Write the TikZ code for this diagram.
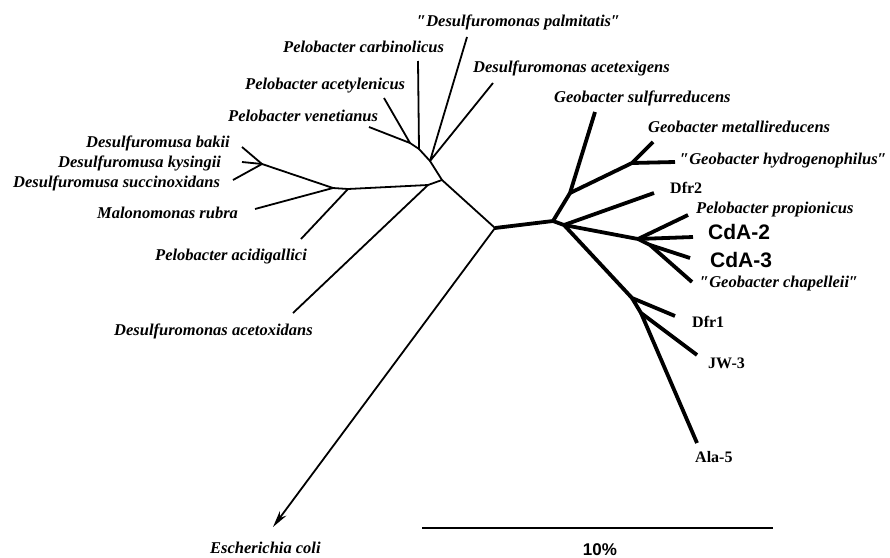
\documentclass[tikz,border=0pt]{standalone}
\usepackage{fontspec}
\setmainfont{Liberation Serif}
\setsansfont{Liberation Sans}
\usetikzlibrary{arrows.meta}
\newcommand{\spc}{\fontsize{16.5}{19}\selectfont\bfseries\itshape}
\newcommand{\iso}{\fontsize{16}{19}\selectfont\bfseries}
\newcommand{\cdafont}{\fontsize{21}{24}\selectfont\sffamily\bfseries}
\newcommand{\dq}{″}
\begin{document}
\begin{tikzpicture}[x=1pt,y=-1pt,line join=round,
  br/.style={line width=1.8pt},
  trunk/.style={line width=3.8pt},
  lab/.style={anchor=base west,inner sep=0,font=\spc}]
\useasboundingbox (0,0) rectangle (890,557);
% inner nodes, left part
\coordinate (C) at (495,228);
\coordinate (A) at (442,180);
\coordinate (B) at (430,161);
\coordinate (D) at (428,185);
\coordinate (cb) at (419,149);
\coordinate (J) at (410,143);
\coordinate (F) at (348,189);
\coordinate (G) at (333,188);
\coordinate (H) at (262,164);
% tips, left part
\coordinate (palm) at (467,37);
\coordinate (acex) at (493,83);
\coordinate (carb) at (418,61);
\coordinate (acet) at (384,98);
\coordinate (vene) at (369,127);
\coordinate (baki) at (242,147);
\coordinate (kysi) at (242,162);
\coordinate (succ) at (233,180);
\coordinate (malo) at (255,209);
\coordinate (acid) at (301,239);
\coordinate (acox) at (293,313);
\coordinate (ecol) at (273,527);
% inner nodes, right part
\coordinate (K) at (553,221);
\coordinate (L) at (570,193);
\coordinate (M) at (632,163);
\coordinate (N) at (564,225);
\coordinate (P) at (638,239);
\coordinate (Q) at (650,245);
\coordinate (R) at (632,298);
\coordinate (S) at (641,313);
% tips, right part
\coordinate (sulf) at (595,112);
\coordinate (meta) at (653,142);
\coordinate (hydr) at (675,162);
\coordinate (dfrb) at (654,193);
\coordinate (prop) at (688,215);
\coordinate (cdab) at (693,237);
\coordinate (cdac) at (690,258);
\coordinate (chap) at (692,282);
\coordinate (dfra) at (675,316);
\coordinate (jwc) at (697,355);
\coordinate (alae) at (697,443);
% thin branches
\draw[br] (palm) -- (B) -- (acex);
\draw[br] (carb) -- (cb) -- (B) -- (A) -- (C);
\draw[br] (acet) -- (J) -- (vene);
\draw[br] (J) -- (cb);
\draw[br] (baki) -- (H) -- (succ);
\draw[br] (kysi) -- (H) -- (G) -- (F) -- (D) -- (A);
\draw[br] (malo) -- (G);
\draw[br] (acid) -- (F);
\draw[br] (acox) -- (D);
\draw[br,-{Stealth[length=17pt,width=8pt]}] (C) -- (ecol);
% thick branches
\draw[trunk] (C) -- (K) -- (L) -- (sulf);
\draw[trunk] (L) -- (M) -- (meta);
\draw[trunk] (M) -- (hydr);
\draw[trunk] (K) -- (N) -- (dfrb);
\draw[trunk] (N) -- (P) -- (prop);
\draw[trunk] (P) -- (cdab);
\draw[trunk] (P) -- (Q) -- (cdac);
\draw[trunk] (Q) -- (chap);
\draw[trunk] (N) -- (R) -- (dfra);
\draw[trunk] (R) -- (S) -- (jwc);
\draw[trunk] (S) -- (alae);
% labels
\node[lab] (lPalm) at (417,26) {\dq Desulfuromonas palmitatis\dq};
\node[lab] (lCarb) at (283,52) {Pelobacter carbinolicus};
\node[lab] (lAcex) at (473,72) {Desulfuromonas acetexigens};
\node[lab] (lAcet) at (245,89) {Pelobacter acetylenicus};
\node[lab] (lVene) at (228,121) {Pelobacter venetianus};
\node[lab] (lBaki) at (86,147) {Desulfuromusa bakii};
\node[lab] (lKysi) at (58,167) {Desulfuromusa kysingii};
\node[lab] (lSucc) at (13,187) {Desulfuromusa succinoxidans};
\node[lab] (lMalo) at (97,218) {Malonomonas rubra};
\node[lab] (lAcid) at (155,260) {Pelobacter acidigallici};
\node[lab] (lAcox) at (114,335) {Desulfuromonas acetoxidans};
\node[lab] (lEcol) at (210,553) {Escherichia coli};
\node[lab] (lSulf) at (554,102) {Geobacter sulfurreducens};
\node[lab] (lMeta) at (648,132) {Geobacter metallireducens};
\node[lab] (lHydr) at (680,164) {\dq Geobacter hydrogenophilus\dq};
\node[lab,font=\iso] (lDfrb) at (670,193) {Dfr2};
\node[lab] (lProp) at (696,213) {Pelobacter propionicus};
\node[lab,font=\cdafont] (lCdab) at (708,239) {CdA-2};
\node[lab,font=\cdafont] (lCdac) at (710,267) {CdA-3};
\node[lab] (lChap) at (700,287) {\dq Geobacter chapelleii\dq};
\node[lab,font=\iso] (lDfra) at (692,327) {Dfr1};
\node[lab,font=\iso] (lJwc) at (708,368) {JW-3};
\node[lab,font=\iso] (lAlae) at (695,462) {Ala-5};
% scale bar
\coordinate (sbL) at (422,528);
\coordinate (sbR) at (773,528);
\draw[br] (sbL) -- (sbR);
\node[anchor=base,inner sep=0,font=\fontsize{17}{19}\selectfont\sffamily\bfseries] (lScale) at (600,555) {10\%};
\end{tikzpicture}
\end{document}
